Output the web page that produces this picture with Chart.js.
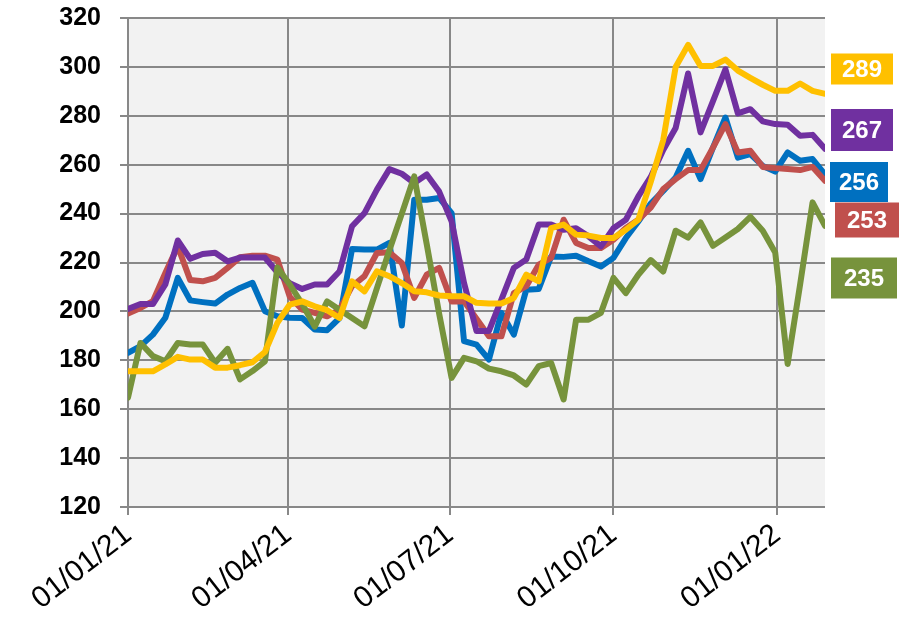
<!DOCTYPE html>
<html>
<head>
<meta charset="utf-8">
<script src="https://cdn.jsdelivr.net/npm/chart.js@4"></script>
<style>
  html, body { margin: 0; padding: 0; background: #fff; }
</style>
</head>
<body>
<canvas id="grafico" width="909" height="620"></canvas>
<script>
// datos semanales desde el 01/01/21
const semanas = Array.from({ length: 57 }, (_, i) => i * 7);
const tickLabels = ['01/01/21', '01/04/21', '01/07/21', '01/10/21', '01/01/22'];

const serieAmarilla = [175.5, 175.5, 175.5, 178.3, 181.4, 180.3, 180.3, 177, 177, 178, 179.2, 183.4, 195.3, 202.8, 204.1, 202.1, 200.5, 197.3, 212.3, 208.2, 216.4, 214.4, 211.6, 208.2, 207.8, 206.5, 206.2, 206.2, 203.5, 203.2, 203.2, 205.5, 215, 212.3, 234.1, 235.5, 231.4, 231, 230, 230, 233.4, 237.5, 253, 270, 300, 309, 300.4, 300.4, 303, 298.5, 295.5, 292.7, 290.2, 290.2, 293.2, 290.2, 289];
const serieMorada = [201, 203, 203, 211, 229, 221.5, 223.5, 224, 220.5, 222, 222, 222, 216, 211.5, 209.2, 211, 211, 216.4, 234.8, 240.2, 249.8, 258.2, 256.3, 252.5, 256, 249, 236.8, 211.6, 192, 192, 204.8, 217.8, 221.2, 235.5, 235.5, 233.4, 234, 230.7, 226.6, 234, 237.5, 247, 255, 266, 275, 297.3, 273.2, 286, 299, 281, 282.7, 277.7, 276.6, 276.3, 271.8, 272.2, 266.5];
const serieAzul = [183, 185.8, 190.5, 197.4, 213.7, 204.5, 203.8, 203.2, 206.9, 209.6, 211.7, 200.1, 198, 197.4, 197.3, 192.6, 192.3, 197.3, 225.5, 225.3, 225.3, 228, 194.2, 245.7, 245.7, 246.4, 240.2, 187.8, 186.4, 180.3, 199.4, 190.5, 208.9, 209.2, 222.5, 222.3, 222.8, 220.5, 218.4, 221.9, 230, 236.8, 244.1, 249.3, 254.8, 265.7, 254.1, 267, 279.3, 262.9, 264.3, 259.5, 257.2, 265, 261.6, 262.3, 256];
const serieRoja = [199.1, 201.4, 204.2, 215.7, 226.6, 212.8, 212.3, 213.7, 217.8, 222.2, 222.8, 222.8, 221.2, 206, 200.7, 199.4, 198, 200.7, 210.3, 214.4, 223.9, 224.2, 219.8, 205.5, 215, 217.8, 204.1, 204.1, 197, 189.8, 189.8, 207.5, 210.3, 219.1, 221.9, 237.5, 228, 225.9, 225.9, 229.3, 234.1, 237.5, 242.5, 250, 254.1, 257.8, 257.8, 267, 276.6, 265, 265.7, 259.1, 258.6, 258.2, 257.8, 259.1, 253.4];
const serieVerde = [164.7, 187.1, 181.7, 179.6, 187.1, 186.5, 186.5, 179, 184.7, 172.2, 175.6, 179.6, 218, 211, 203, 193.8, 204.1, 200.7, 197.3, 193.9, 209.5, 225, 240, 255.2, 227.5, 199, 172.8, 181, 179.6, 176.6, 175.5, 173.8, 170.1, 177.6, 178.9, 164, 196.6, 196.6, 199.4, 213.7, 207.5, 215, 221, 216.3, 233, 230.2, 236.4, 226.8, 230.2, 233.7, 238.7, 233, 224.1, 178.5, 211, 244.6, 235];

// dia desde 01/01/21 para cada etiqueta dd/mm/yy
const diaDe = (txt) => {
    const [d, m, a] = txt.split('/').map(Number);
    return (Date.UTC(2000 + a, m - 1, d) - Date.UTC(2021, 0, 1)) / 864e5;
};
const tickDias = tickLabels.map(diaDe);

const series = [
    { nombre: 'Amarillo', datos: serieAmarilla, color: '#FFC000', orden: 0 },
    { nombre: 'Morado', datos: serieMorada, color: '#7030A0', orden: 2 },
    { nombre: 'Azul', datos: serieAzul, color: '#0070C0', orden: 4 },
    { nombre: 'Rojo', datos: serieRoja, color: '#C0504D', orden: 3 },
    { nombre: 'Verde', datos: serieVerde, color: '#77933C', orden: 1 }
];

// cajas de etiquetas a la derecha (x, centro y, ancho, alto) en pixeles
const cajas = [
    [831, 69, 62, 31],
    [831, 130, 62, 42],
    [830, 182, 58, 40],
    [835, 220, 64, 35],
    [831, 278, 66, 41]
];

const fondoArea = {
    id: 'fondoArea',
    beforeDraw(chart) {
        const { ctx, chartArea: a } = chart;
        ctx.save();
        ctx.fillStyle = '#F2F2F2';
        ctx.fillRect(a.left, a.top, a.right - a.left, a.bottom - a.top);
        ctx.restore();
    }
};

const etiquetasFinales = {
    id: 'etiquetasFinales',
    afterDraw(chart) {
        const ctx = chart.ctx;
        ctx.save();
        series.forEach((s, i) => {
            const [x, yc, w, h] = cajas[i];
            ctx.fillStyle = s.color;
            ctx.fillRect(x, yc - h / 2, w, h);
            ctx.fillStyle = '#FFFFFF';
            ctx.font = 'bold 24px "Liberation Sans"';
            ctx.textAlign = 'center';
            ctx.textBaseline = 'middle';
            ctx.fillText(Math.round(s.datos[s.datos.length - 1]), x + w / 2, yc + 1);
        });
        ctx.restore();
    }
};

const grafico = document.getElementById('grafico');
new Chart(grafico, {
    type: 'line',
    data: {
        datasets: series.map(s => ({
            label: s.nombre,
            data: s.datos.map((v, i) => ({ x: semanas[i], y: v })),
            borderColor: s.color,
            backgroundColor: s.color,
            borderWidth: 6,
            borderJoinStyle: 'round',
            borderCapStyle: 'round',
            pointRadius: 0,
            tension: 0,
            order: s.orden
        }))
    },
    options: {
        responsive: false,
        animation: false,
        events: [],
        layout: { padding: { top: 18, right: 84, bottom: 0, left: 0 } },
        plugins: { legend: { display: false }, tooltip: { enabled: false } },
        scales: {
            x: {
                type: 'linear',
                min: 0,
                max: semanas[semanas.length - 1],
                afterBuildTicks: (scale) => {
                    scale.ticks = tickDias.map(v => ({ value: v }));
                },
                afterFit: (scale) => {
                    scale.height = 113;
                    scale.paddingLeft = 0;
                    scale.paddingRight = 0;
                },
                grid: { color: '#888888', lineWidth: 2, tickLength: 8 },
                border: { display: false },
                ticks: {
                    autoSkip: false,
                    minRotation: 38,
                    maxRotation: 38,
                    padding: 2,
                    color: '#000',
                    font: { family: '"Liberation Sans"', size: 30 },
                    callback: (v) => tickLabels[tickDias.indexOf(v)]
                }
            },
            y: {
                min: 120,
                max: 320,
                afterFit: (scale) => {
                    scale.width = 128;
                    scale.paddingTop = 0;
                    scale.paddingBottom = 0;
                },
                grid: { color: '#888888', lineWidth: 2, tickLength: 8 },
                border: { display: false },
                ticks: {
                    stepSize: 20,
                    padding: 19,
                    color: '#000',
                    font: { family: '"Liberation Sans"', size: 25, weight: 'bold' }
                }
            }
        }
    },
    plugins: [fondoArea, etiquetasFinales]
});
</script>
</body>
</html>
